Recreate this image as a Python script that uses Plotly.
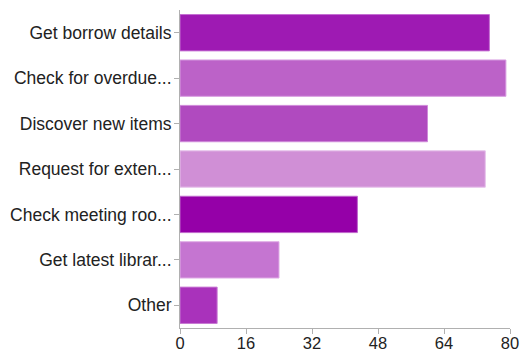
import plotly.graph_objects as go

categories = [
    "Get borrow details",
    "Check for overdue...",
    "Discover new items",
    "Request for exten...",
    "Check meeting roo...",
    "Get latest librar...",
    "Other",
]
counts = [75, 79, 60, 74, 43, 24, 9]
bar_colors = ["#9e1ab3", "#bc62c8", "#b04abf", "#d08fd6", "#9500a8", "#c575d1", "#a932bb"]
edge_colors = ["#c46fd2", "#d79be0", "#cf8ad9", "#e6c0ea", "#bf66cc", "#dfade6", "#c87ad3"]
x_ticks = [0, 16, 32, 48, 64, 80]

fig = go.Figure(
    go.Bar(
        x=counts,
        y=categories,
        orientation="h",
        marker=dict(color=bar_colors, line=dict(color=edge_colors, width=1)),
        hoverinfo="x+y",
    )
)

fig.update_layout(
    width=520,
    height=352,
    margin=dict(l=180, r=10, t=10, b=24, pad=0),
    paper_bgcolor="white",
    plot_bgcolor="white",
    bargap=0.2,
    showlegend=False,
    font=dict(family="Liberation Sans, Arial, sans-serif", size=17, color="#222222"),
)

fig.update_xaxes(
    range=[0, 80],
    tickvals=x_ticks,
    showgrid=False,
    zeroline=False,
    showline=True,
    linecolor="#b0b0b0",
    linewidth=1,
    ticks="outside",
    ticklen=5,
    tickcolor="#b0b0b0",
    tickfont=dict(size=16.5, color="#222222"),
    ticklabelstandoff=-5,
    automargin=False,
)

fig.update_yaxes(
    categoryorder="array",
    categoryarray=categories,
    autorange="reversed",
    showgrid=False,
    zeroline=False,
    showline=True,
    linecolor="#b0b0b0",
    linewidth=1,
    ticks="outside",
    ticklen=5,
    tickcolor="#b0b0b0",
    tickfont=dict(size=17.5, color="#222222"),
    ticklabelstandoff=-1,
    automargin=False,
)

fig.write_html("out.html", post_script="document.body.style.margin='0';")
